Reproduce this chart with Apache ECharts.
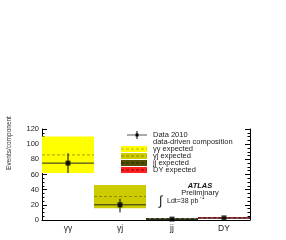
<!DOCTYPE html>
<html><head><meta charset="utf-8">
<script src="https://cdn.jsdelivr.net/npm/echarts@6/dist/echarts.min.js"></script>
<style>html,body{margin:0;padding:0;background:#fff}#c{width:286px;height:240px}</style>
</head><body><div id="c"></div>
<script>
var categories = ['γγ', 'γj', 'jj', 'DY'];
var expected = [86, 31, 1.5, 3];
var expectedLow = [62, 15.5, 0, 2];
var expectedHigh = [110, 46, 2, 3.5];
var composition = [75, 20, 1.2, 2.5];
var data2010 = [75, 20, 1.2, 2.8];
var dataErrLow = [62, 10, 0.5, 2];
var dataErrHigh = [88, 28, 2, 3.6];
var yTicks = [0, 20, 40, 60, 80, 100, 120];

var boxFill = ['#ffff00', '#cccc00', '#505000', '#ff2020'];
var dashColor = ['#b5b500', '#8a8a00', '#262600', '#8b0000'];

var chart = echarts.init(document.getElementById('c'), null, {renderer: 'canvas'});

function bandRender(kind) {
  return function (params, api) {
    var i = api.value(0);
    var bw = api.size([1, 0])[0];
    if (kind === 'box') {
      var top = api.coord([i, api.value(2)]);
      var bot = api.coord([i, api.value(1)]);
      return {type: 'rect', shape: {x: top[0] - bw / 2, y: top[1], width: bw, height: Math.max(bot[1] - top[1], 1)},
        style: {fill: boxFill[i]}};
    }
    var p = api.coord([i, api.value(1)]);
    if (kind === 'dash') {
      return {type: 'line', shape: {x1: p[0] - bw / 2, y1: p[1], x2: p[0] + bw / 2, y2: p[1]},
        style: {stroke: dashColor[i], lineWidth: 1.2, lineDash: [3, 2]}};
    }
    if (kind === 'solid') {
      return {type: 'line', shape: {x1: p[0] - bw / 2, y1: p[1], x2: p[0] + bw / 2, y2: p[1]},
        style: {stroke: '#222', lineWidth: 1}};
    }
    if (kind === 'err') {
      var a = api.coord([i, api.value(1)]);
      var b = api.coord([i, api.value(2)]);
      return {type: 'line', shape: {x1: a[0], y1: a[1], x2: b[0], y2: b[1]}, style: {stroke: '#000', lineWidth: 1}};
    }
  };
}

var boxData = categories.map(function (c, i) { return [i, expectedLow[i], expectedHigh[i]]; });
var dashData = categories.map(function (c, i) { return [i, expected[i]]; });
var solidData = categories.map(function (c, i) { return [i, composition[i]]; });
var errData = categories.map(function (c, i) { return [i, dataErrLow[i], dataErrHigh[i]]; });
var ptData = categories.map(function (c, i) { return [i, data2010[i]]; });

var font = 'Liberation Sans, Arial, sans-serif';
var legendRows = [
  {t: 'γγ expected', i: 0}, {t: 'γj expected', i: 1}, {t: 'jj expected', i: 2}, {t: 'DY expected', i: 3}
];
var graphics = [
  {type: 'text', x: 9, y: 143, rotation: Math.PI / 2,
    style: {text: 'Events/component', font: '6.5px ' + font, fill: '#333', align: 'center', verticalAlign: 'middle'}},
  {type: 'line', shape: {x1: 127, y1: 135, x2: 147, y2: 135}, style: {stroke: '#555', lineWidth: 1}},
  {type: 'line', shape: {x1: 137, y1: 131, x2: 137, y2: 139}, style: {stroke: '#000', lineWidth: 1}},
  {type: 'rect', shape: {x: 135.5, y: 133.5, width: 3, height: 3}, style: {fill: '#000'}},
  {type: 'text', x: 153, y: 135, style: {text: 'Data 2010', font: '7.5px ' + font, fill: '#222', verticalAlign: 'middle'}},
  {type: 'text', x: 153, y: 142, style: {text: 'data-driven composition', font: '7.5px ' + font, fill: '#222', verticalAlign: 'middle'}},
  {type: 'text', x: 200, y: 186, style: {text: 'ATLAS', font: 'italic bold 7.5px ' + font, fill: '#111', align: 'center', verticalAlign: 'middle'}},
  {type: 'text', x: 200, y: 193, style: {text: 'Preliminary', font: '7.5px ' + font, fill: '#222', align: 'center', verticalAlign: 'middle'}},
  {type: 'text', x: 159, y: 201, style: {text: '∫', font: '13px ' + font, fill: '#222', verticalAlign: 'middle'}},
  {type: 'text', x: 167, y: 201, style: {text: 'Ldt=38 pb', font: '7px ' + font, fill: '#222', verticalAlign: 'middle'}},
  {type: 'text', x: 200, y: 198, style: {text: '-1', font: '5px ' + font, fill: '#222', verticalAlign: 'middle'}}
];
legendRows.forEach(function (r, k) {
  var yc = 149 + k * 7;
  graphics.push({type: 'rect', shape: {x: 121, y: yc - 3, width: 26, height: 6}, style: {fill: boxFill[r.i]}});
  graphics.push({type: 'line', shape: {x1: 121, y1: yc, x2: 147, y2: yc}, style: {stroke: dashColor[r.i], lineWidth: 1.2, lineDash: [3, 2]}});
  graphics.push({type: 'text', x: 153, y: yc, style: {text: r.t, font: '7.5px ' + font, fill: '#222', verticalAlign: 'middle'}});
});

chart.setOption({
  animation: false,
  backgroundColor: '#fff',
  grid: {left: 42, right: 36, top: 129, bottom: 20},
  xAxis: [{
    type: 'category', data: categories, boundaryGap: true,
    axisLine: {lineStyle: {color: '#d49a80', width: 1.2}},
    axisTick: {inside: true, alignWithLabel: true, length: 3, lineStyle: {color: '#000'}},
    axisLabel: {fontFamily: font, fontSize: 8.5, color: '#222', margin: 4}
  }, {
    type: 'category', data: categories, position: 'top', boundaryGap: true,
    axisLine: {show: true, lineStyle: {color: '#000'}},
    axisTick: {inside: true, alignWithLabel: true, length: 3, lineStyle: {color: '#000'}},
    axisLabel: {show: false}
  }],
  yAxis: [{
    type: 'value', min: 0, max: 120, interval: 20,
    axisLine: {show: true, lineStyle: {color: '#000'}},
    axisTick: {show: true, inside: true, length: 5, lineStyle: {color: '#000'}},
    minorTick: {show: true, splitNumber: 4, length: 2.5, lineStyle: {color: '#000'}},
    splitLine: {show: false},
    axisLabel: {fontFamily: font, fontSize: 7.5, color: '#222', margin: 3,
      formatter: function (v) { return yTicks.indexOf(v) >= 0 ? String(v) : ''; }}
  }, {
    type: 'value', min: 0, max: 120, interval: 20, position: 'right',
    axisLine: {show: true, lineStyle: {color: '#000'}},
    axisTick: {show: true, inside: true, length: 5, lineStyle: {color: '#000'}},
    minorTick: {show: true, splitNumber: 4, length: 2.5, lineStyle: {color: '#000'}},
    splitLine: {show: false}, axisLabel: {show: false}
  }],
  graphic: graphics,
  series: [
    {type: 'custom', renderItem: bandRender('box'), data: boxData, encode: {x: 0, y: [1, 2]}, z: 1},
    {type: 'custom', renderItem: bandRender('dash'), data: dashData, encode: {x: 0, y: 1}, z: 2},
    {type: 'custom', renderItem: bandRender('solid'), data: solidData, encode: {x: 0, y: 1}, z: 3},
    {type: 'custom', renderItem: bandRender('err'), data: errData, encode: {x: 0, y: [1, 2]}, z: 4},
    {type: 'scatter', data: ptData, symbol: 'rect', symbolSize: 5, itemStyle: {color: '#000'}, z: 5}
  ]
});
</script></body></html>
